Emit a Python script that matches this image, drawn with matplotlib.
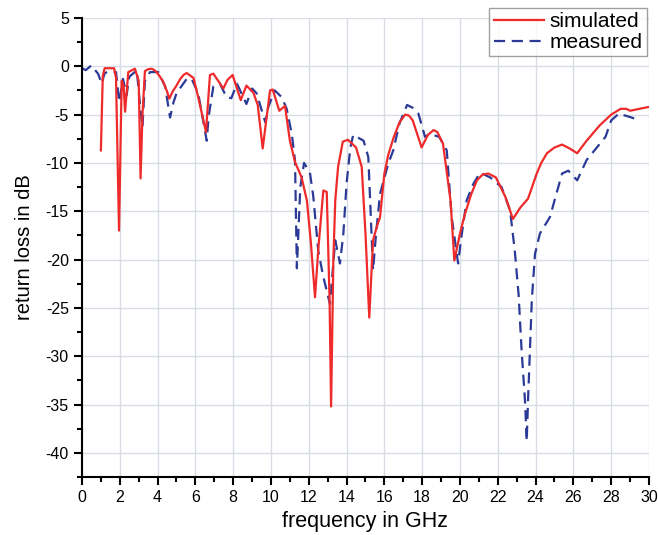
import numpy as np
import matplotlib
matplotlib.use("Agg")
import matplotlib.pyplot as plt
from matplotlib.ticker import MultipleLocator

plt.rcParams['font.family'] = ['Liberation Sans', 'DejaVu Sans']
plt.rcParams['axes.unicode_minus'] = False

# simulated return loss (GHz, dB)
sim_freq = [1.0, 1.1, 1.2, 1.7, 1.8, 1.96, 2.1, 2.2, 2.28, 2.45,
            2.8, 3.0, 3.1, 3.2, 3.33, 3.5, 3.7, 3.9, 4.1, 4.3,
            4.5, 4.62, 4.8, 5.0, 5.2, 5.4, 5.54, 5.9, 6.15, 6.56,
            6.77, 6.95, 7.48, 7.7, 7.97, 8.4, 8.7, 9.06, 9.3, 9.56,
            9.95, 10.09, 10.44, 10.74, 11.0, 11.27, 11.62, 11.9, 12.1, 12.33,
            12.5, 12.77, 12.95, 13.1, 13.18, 13.3, 13.4, 13.55, 13.8, 14.07,
            14.5, 14.8, 15.0, 15.2, 15.4, 15.6, 15.77, 16.0, 16.2, 16.5,
            16.8, 17.1, 17.3, 17.5, 17.97, 18.3, 18.6, 18.8, 19.1, 19.5,
            19.7, 20.0, 20.26, 20.6, 20.9, 21.2, 21.5, 21.9, 22.4, 22.8,
            23.2, 23.6, 24.06, 24.3, 24.6, 25.0, 25.4, 25.8, 26.2, 26.7,
            27.4, 28.0, 28.5, 28.8, 29.0, 30.0]
sim_db = [-8.7, -1.0, -0.2, -0.2, -1.2, -17.0, -1.5, -2.0, -4.7, -0.6,
          -0.25, -1.5, -11.6, -5.0, -0.5, -0.3, -0.25, -0.5, -1.0, -1.6,
          -2.6, -3.35, -2.6, -2.0, -1.3, -0.85, -0.7, -1.2, -3.2, -6.8,
          -0.9, -0.76, -2.3, -1.4, -0.9, -3.5, -2.0, -2.7, -4.0, -8.5,
          -2.5, -2.4, -4.6, -4.1, -7.7, -9.9, -11.5, -13.9, -18.0, -23.9,
          -19.0, -12.85, -13.0, -24.2, -35.2, -20.0, -13.9, -10.4, -7.8, -7.6,
          -8.4, -10.4, -17.3, -26.0, -18.0, -16.6, -15.6, -11.1, -9.2, -7.3,
          -5.8, -5.0, -5.1, -5.6, -8.4, -7.1, -6.6, -6.8, -8.0, -13.9,
          -20.1, -17.3, -15.3, -13.2, -11.8, -11.2, -11.1, -11.5, -13.5, -15.8,
          -14.6, -13.7, -11.1, -10.0, -9.0, -8.4, -8.1, -8.5, -9.0, -7.7,
          -6.1, -5.0, -4.4, -4.4, -4.6, -4.2]

# measured return loss (GHz, dB)
meas_freq = [0.0, 0.2, 0.5, 0.86, 1.04, 1.2, 1.5, 1.8, 1.97, 2.05,
             2.17, 2.36, 2.5, 2.9, 3.1, 3.2, 3.33, 3.6, 4.04, 4.4,
             4.66, 4.83, 5.0, 5.54, 5.8, 6.15, 6.6, 6.7, 6.95, 7.3,
             7.65, 7.9, 8.2, 8.7, 9.0, 9.24, 9.7, 9.86, 10.2, 10.57,
             10.83, 11.1, 11.27, 11.37, 11.55, 11.75, 12.06, 12.24, 12.5, 12.77,
             13.12, 13.4, 13.65, 13.83, 14.0, 14.2, 14.35, 14.9, 15.15, 15.4,
             15.56, 15.77, 16.2, 16.47, 16.8, 17.2, 17.5, 17.8, 18.15, 18.4,
             18.9, 19.3, 19.56, 19.9, 20.1, 20.35, 20.7, 21.06, 21.6, 22.2,
             22.65, 22.9, 23.1, 23.26, 23.44, 23.53, 23.6, 23.8, 23.97, 24.23,
             24.76, 25.0, 25.4, 25.73, 26.2, 26.7, 27.2, 27.7, 28.0, 28.4,
             29.0, 29.5]
meas_db = [-0.2, -0.4, 0.1, -0.8, -1.8, -0.7, -0.5, -0.6, -3.7, -2.8,
           -1.3, -3.0, -1.1, -0.4, -4.6, -6.3, -1.5, -0.6, -0.6, -2.1,
           -5.3, -3.8, -2.8, -1.3, -1.3, -2.8, -7.7, -5.2, -2.1, -1.8,
           -3.2, -3.3, -1.8, -3.9, -2.3, -2.8, -5.8, -4.2, -2.5, -3.2,
           -4.4, -7.0, -9.7, -20.9, -12.5, -10.0, -11.0, -13.5, -19.1, -21.8,
           -24.6, -18.0, -20.4, -17.3, -12.1, -8.4, -7.1, -7.7, -9.4, -21.1,
           -17.3, -13.2, -10.1, -8.7, -5.9, -4.0, -4.3, -4.9, -7.3, -7.0,
           -7.3, -8.7, -15.6, -20.4, -17.3, -13.9, -12.2, -11.0, -11.5, -12.5,
           -14.9, -19.1, -23.6, -29.4, -34.6, -38.8, -34.6, -24.2, -19.4, -17.3,
           -15.6, -13.9, -11.1, -10.8, -11.8, -9.7, -8.5, -7.3, -5.6, -4.9,
           -5.25, -5.6]

fig = plt.figure(figsize=(6.58, 5.35), dpi=100)
ax = fig.add_axes([0.1246, 0.1084, 0.8617, 0.8580])

ax.plot(sim_freq, sim_db, color='#ee2a2a', lw=1.6, label='simulated', zorder=3)
ax.plot(meas_freq, meas_db, color='#2b3a96', lw=1.6, dashes=(5, 3),
        label='measured', zorder=2)

ax.set_xlim(0, 30)
ax.set_ylim(-42.5, 5)
ax.xaxis.set_major_locator(MultipleLocator(2))
ax.xaxis.set_minor_locator(MultipleLocator(1))
ax.yaxis.set_major_locator(MultipleLocator(5))
ax.yaxis.set_minor_locator(MultipleLocator(2.5))

ax.grid(True, which='major', color='#d9dce4', lw=1.0, zorder=0)
ax.set_axisbelow(True)

for side in ['top', 'right']:
    ax.spines[side].set_visible(False)
for side in ['left', 'bottom']:
    ax.spines[side].set_linewidth(1.5)

ax.tick_params(which='major', direction='out', length=6, width=1.5, labelsize=11.5)
ax.tick_params(which='minor', direction='out', length=3.5, width=1.5)

ax.set_xlabel('frequency in GHz', fontsize=15.5, labelpad=4)
ax.set_ylabel('return loss in dB', fontsize=14.5, labelpad=8)

leg = ax.legend(loc='upper right', bbox_to_anchor=(647 / 658, 1 - 8 / 535),
                bbox_transform=fig.transFigure, fontsize=15, fancybox=False,
                handlelength=2.4, borderpad=0.2, labelspacing=0.1,
                handletextpad=0.3, borderaxespad=0)
leg.get_frame().set_edgecolor('#888888')
leg.get_frame().set_linewidth(1.0)

fig.savefig('out.png', dpi=100)
